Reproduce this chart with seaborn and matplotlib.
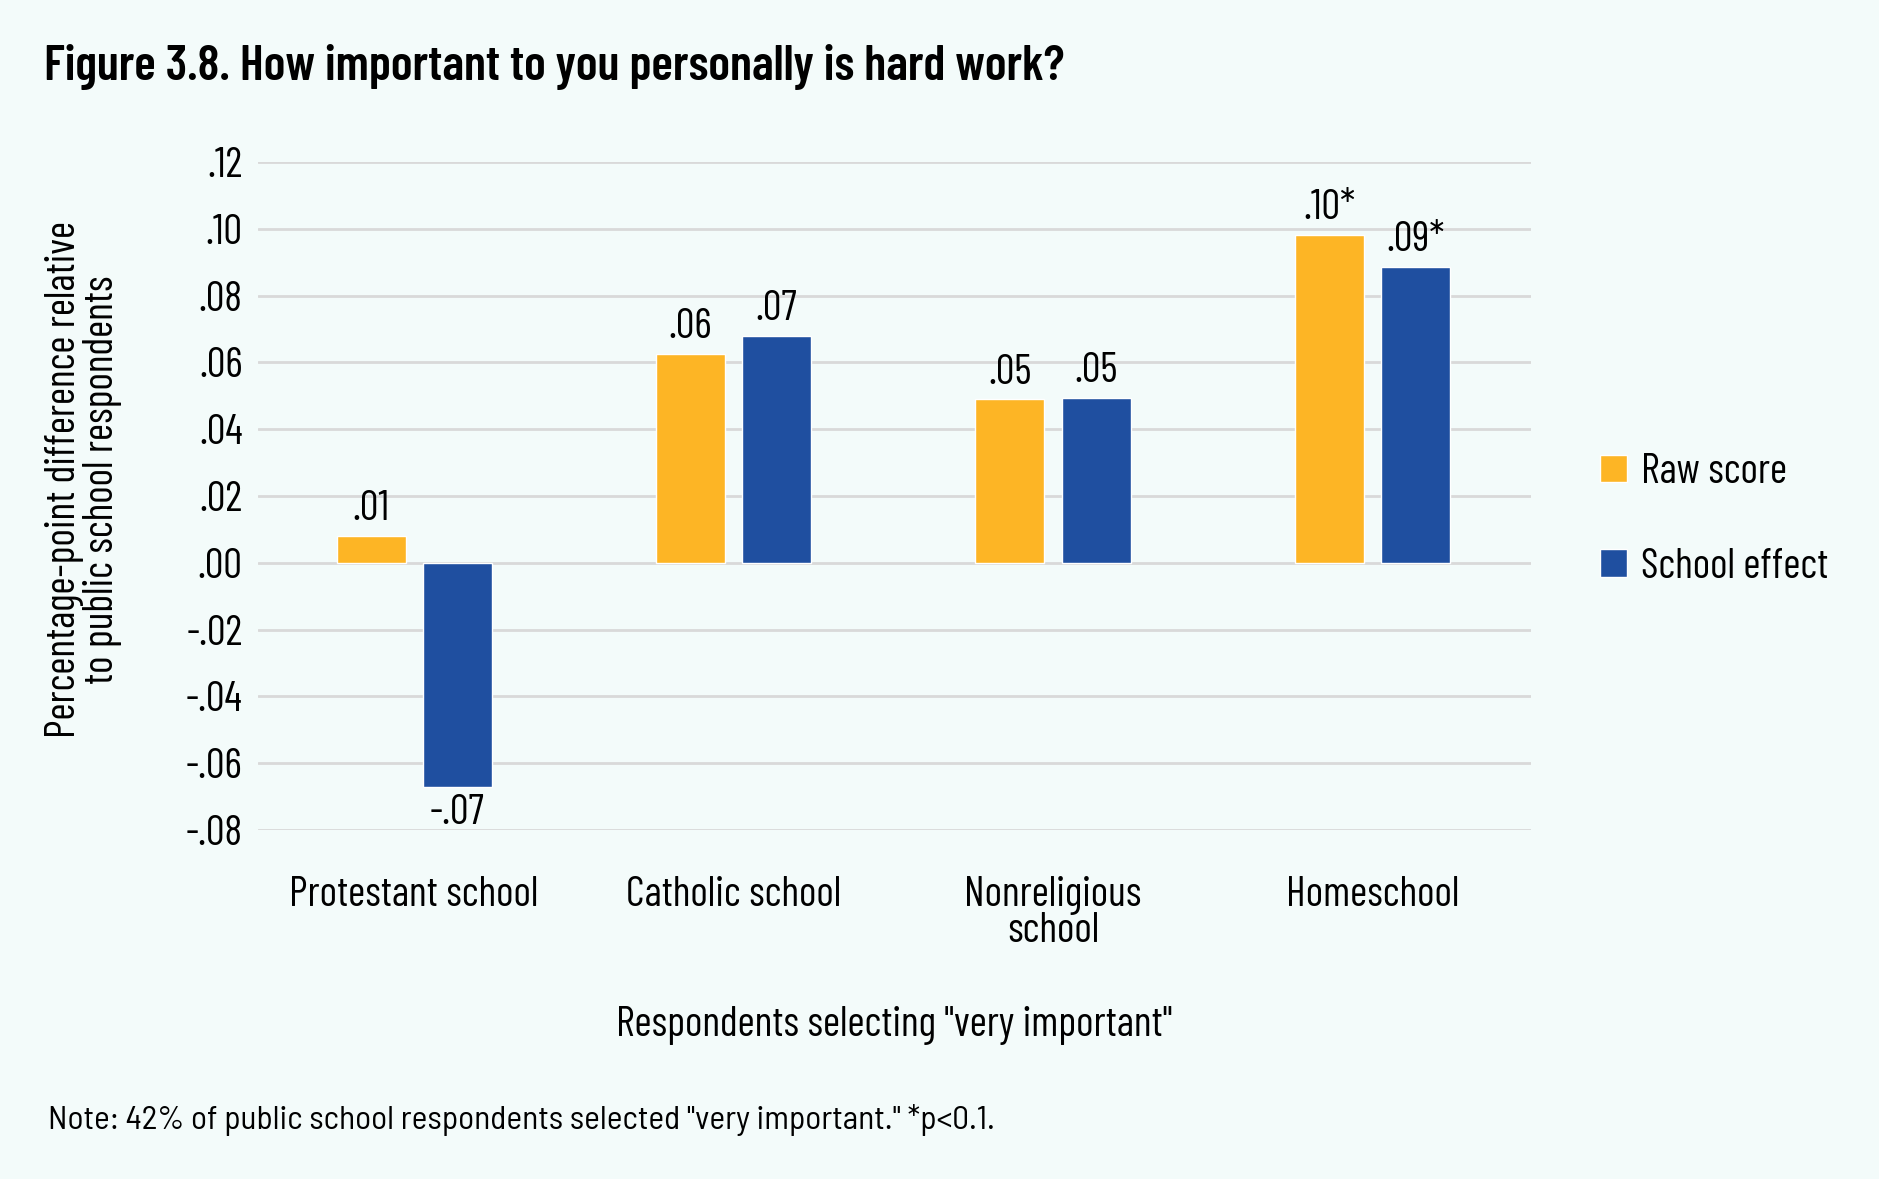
import matplotlib
matplotlib.use('Agg')
import matplotlib.pyplot as plt
import matplotlib.font_manager as fm
from matplotlib.patches import Patch
import seaborn as sns
import pandas as pd

categories = ['Protestant school', 'Catholic school', 'Nonreligious\nschool', 'Homeschool']
series = ['Raw score', 'School effect']
raw_score = [0.0079, 0.0625, 0.0489, 0.0982]
school_effect = [-0.0671, 0.0679, 0.0493, 0.0886]
raw_labels = ['.01', '.06', '.05', '.10*']
effect_labels = ['-.07', '.07', '.05', '.09*']
yticks = [-0.08, -0.06, -0.04, -0.02, 0.0, 0.02, 0.04, 0.06, 0.08, 0.10, 0.12]

bg = '#F3FBFA'
colors = ['#FDB525', '#1F4FA0']

# condensed font, whatever is there
have = set(f.name for f in fm.fontManager.ttflist)
font = 'DejaVu Sans'
for cand in ['Barlow Condensed', 'Barlow Semi Condensed', 'Roboto Condensed',
             'Liberation Sans Narrow']:
    if cand in have:
        font = cand
        break
note_font = 'Barlow Semi Condensed' if 'Barlow Semi Condensed' in have else font

sns.set_theme(style='white')
plt.rcParams['font.family'] = [font, 'DejaVu Sans']
plt.rcParams['text.color'] = 'black'
plt.rcParams['axes.labelcolor'] = 'black'
plt.rcParams['xtick.color'] = 'black'
plt.rcParams['ytick.color'] = 'black'

fs = 30

df = pd.DataFrame({
    'category': categories * 2,
    'series': [series[0]] * 4 + [series[1]] * 4,
    'value': raw_score + school_effect,
})

fig = plt.figure(figsize=(18.79, 11.79), dpi=100, facecolor=bg)
ax = fig.add_axes([0.1373, 0.296, 0.6775, 0.5666])
ax.set_facecolor(bg)

sns.barplot(data=df, x='category', y='value', hue='series', palette=colors,
            width=0.54, gap=0.2, ax=ax, legend=False, saturation=1)

for cont, labs in zip(ax.containers, [raw_labels, effect_labels]):
    ax.bar_label(cont, labels=labs, padding=5, fontsize=fs)

ax.set_ylim(-0.08, 0.12)
ax.set_xlim(-0.489, 3.497)
ax.set_yticks(yticks)
ax.set_yticklabels([('-' if v < 0 else '') + ('%.2f' % abs(v))[1:] for v in yticks])
ax.grid(axis='y', color='#D9D9D9', linewidth=2)
ax.set_axisbelow(True)
for s in ax.spines.values():
    s.set_visible(False)
ax.tick_params(axis='both', length=0, labelsize=fs)
ax.tick_params(axis='x', pad=33)
ax.tick_params(axis='y', pad=11)
for t in ax.get_xticklabels():
    t.set_linespacing(0.9)
    t.set_verticalalignment('top')

ax.set_xlabel('Respondents selecting "very important"', fontsize=fs, labelpad=40)
ax.set_ylabel('Percentage-point difference relative\nto public school respondents',
              fontsize=fs, linespacing=0.95, labelpad=46)
ax.yaxis.label.set_y(0.525)

handles = [Patch(facecolor=c, label=s) for c, s in zip(colors, series)]
ax.legend(handles=handles, loc='center left', bbox_to_anchor=(1.025, 0.464),
          frameon=False, fontsize=fs, handlelength=0.63, handleheight=0.63,
          labelspacing=1.33, handletextpad=0.35)

fig.text(0.0234, 0.943, 'Figure 3.8. How important to you personally is hard work?',
         fontsize=36, fontweight='semibold', va='center', ha='left')
fig.text(0.0255, 0.05, 'Note: 42% of public school respondents selected "very important." *p<0.1.',
         fontsize=24, va='center', ha='left', family=[note_font, 'DejaVu Sans'])

fig.savefig('out.png', dpi=100, facecolor=bg)
